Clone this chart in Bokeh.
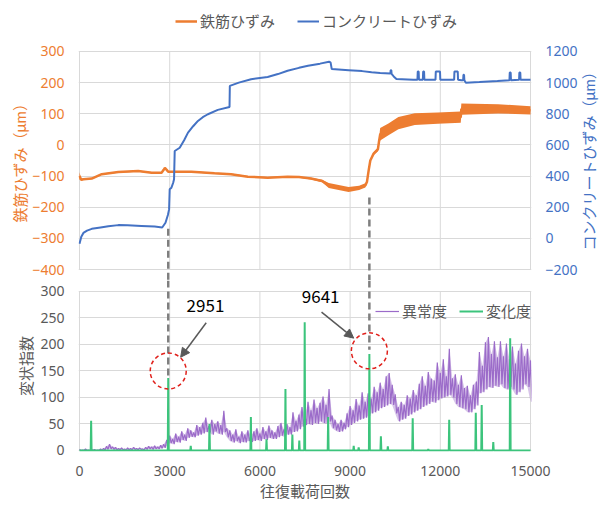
import math
from bokeh.plotting import figure
from bokeh.models import (Range1d, LinearAxis, FixedTicker, Legend, LegendItem,
                          Label, Arrow, NormalHead)
from bokeh.layouts import column, row
from bokeh.embed import file_html
from bokeh.resources import INLINE

# ---------------- data ----------------
X_TICKS = [0, 3000, 6000, 9000, 12000, 15000]
STEEL_TICKS = [-400, -300, -200, -100, 0, 100, 200, 300]
CONC_TICKS = [-200, 0, 200, 400, 600, 800, 1000, 1200]
INDEX_TICKS = [0, 50, 100, 150, 200, 250, 300]

# 鉄筋ひずみ (left axis): x, centre, half thickness of the oscillation band
steel_x = [0, 60, 132, 408, 740, 1290, 1950, 2400, 2730, 2800, 2840, 2900, 2950, 3720, 4490,
           5040, 5600, 6258, 6920, 7300, 7700, 8070, 8290, 8950, 9300, 9507, 9562, 9620, 9672,
           9782, 9925, 9960, 10000, 10275, 10606, 11150, 11920, 12680, 12700, 13920, 15000]
steel_mid = [-100, -112, -110, -108, -94, -87, -84, -89, -89, -80, -74, -80, -86, -86, -91,
             -94, -102, -105, -102, -103, -108, -116, -130, -143, -138, -130, -118, -80, -50,
             -28, -14, 10, 34, 50, 70, 83, 86, 89, 115, 116, 111]
steel_half = [12, 3, 2, 2, 2, 2, 2, 2, 2, 2, 2, 2, 2, 2, 2,
              2, 2, 2, 2, 2, 3, 4, 8, 8, 7, 7, 4, 4, 4,
              5, 6, 10, 20, 19, 20, 19, 18, 18, 18, 15, 13]

# コンクリートひずみ (right axis)
conc_x = [0, 60, 130, 250, 408, 700, 960, 1290, 1600, 2060,
          2500, 2750, 2860, 2940, 2980, 3000, 3057, 3120, 3145, 3167,
          3333, 3480, 3609, 3780, 3940, 4100, 4271, 4600, 4990, 5000,
          5300, 5706, 6258, 6600, 6920, 7300, 7600, 8000, 8300, 8350,
          8390, 8953, 9400, 9714, 10000, 10340, 10350, 10370, 10380, 10450,
          10540, 11100, 11240, 11250, 11280, 11290, 11420, 11430, 11460, 11470,
          11840, 11850, 11990, 12000, 12460, 12470, 12580, 12590, 12700, 12760,
          12770, 12790, 12800, 12850, 13300, 13900, 14300, 14310, 14340, 14350,
          14620, 14630, 14660, 14670, 15000]
conc_y = [-35, 10, 35, 50, 61, 70, 78, 85, 84, 80,
          76, 70, 100, 150, 186, 315, 325, 360, 379, 561,
          582, 630, 679, 720, 754, 778, 797, 825, 844, 979,
          1000, 1022, 1036, 1055, 1076, 1095, 1108, 1122, 1134, 1130,
          1087, 1080, 1074, 1066, 1062, 1058, 1080, 1080, 1056, 1040,
          1024, 1019, 1019, 1072, 1072, 1019, 1019, 1072, 1072, 1019,
          1019, 1072, 1072, 1019, 1019, 1072, 1072, 1019, 1016, 1016,
          1050, 1050, 1016, 1000, 1004, 1010, 1016, 1065, 1065, 1016,
          1018, 1065, 1065, 1018, 1019]

# 異常度: upper / lower swing read every 100 cycles
anom_x = list(range(0, 15001, 100))
anom_hi = [2, 1, 3, 1, 2, 2, 1, 3, 4, 8, 12, 7, 6, 4, 5, 3, 5, 4, 6, 4,
           5, 3, 6, 8, 7, 9, 7, 10, 12, 20, 28, 22, 32, 26, 36, 30, 42, 38, 34, 48,
           44, 52, 62, 46, 58, 50, 55, 48, 75, 42, 38, 30, 40, 26, 36, 30, 38, 28, 36, 42,
           32, 44, 36, 47, 38, 34, 46, 52, 40, 50, 44, 72, 56, 68, 82, 66, 92, 76, 96, 80,
           90, 102, 86, 116, 66, 58, 50, 58, 52, 70, 84, 76, 97, 85, 110, 92, 108, 98, 120, 110,
           128, 116, 140, 146, 124, 106, 82, 92, 86, 104, 98, 114, 104, 126, 140, 122, 148, 136, 132, 166,
           146, 172, 140, 192, 136, 144, 124, 142, 118, 122, 104, 124, 130, 186, 160, 204, 214, 182, 206, 176,
           206, 178, 202, 172, 196, 164, 188, 202, 178, 192, 170]
anom_lo = [0, 0, 0, 0, 0, 0, 0, 0, 1, 2, 3, 2, 1, 1, 1, 0, 1, 1, 2, 1,
           2, 1, 2, 3, 2, 3, 3, 4, 5, 8, 14, 12, 16, 15, 20, 18, 24, 26, 25, 28,
           30, 32, 35, 34, 30, 36, 32, 30, 35, 25, 18, 15, 18, 14, 16, 15, 18, 16, 18, 20,
           18, 22, 20, 24, 22, 22, 25, 28, 26, 30, 30, 35, 36, 40, 45, 48, 50, 48, 52, 50,
           55, 52, 50, 55, 42, 38, 35, 36, 40, 44, 48, 52, 55, 58, 60, 62, 65, 70, 72, 75,
           80, 82, 85, 88, 86, 70, 55, 58, 60, 65, 68, 72, 75, 78, 82, 85, 88, 92, 90, 95,
           98, 100, 102, 105, 100, 88, 82, 80, 78, 72, 72, 78, 85, 108, 110, 115, 120, 118, 122, 120,
           125, 118, 115, 120, 115, 105, 110, 115, 125, 120, 92]

# 変化度 spikes
chg_x = [387, 2951, 3700, 4323, 5700, 6220, 6850, 7080, 7310, 7490, 8270, 9120, 9285,
         9641, 10024, 10255, 11082, 11600, 12296, 13180, 13377, 13762, 14324]
chg_h = [56, 137, 9, 50, 63, 21, 116, 30, 19, 242, 63, 9, 6,
         182, 27, 8, 61, 3, 58, 71, 86, 16, 212]

# annotated events
event_x = [2951, 9641]
event_text = ["2951", "9641"]
conn_top_y = [-269, -169]     # start of dashed connector (left axis units)
conn_bot_y = [138, 190]       # end of dashed connector (index units)
circle_y = [150, 188]
label_x = [4190, 8020]
label_y = [274, 290]
arrow_from = [(4214, 241), (8051, 261)]
arrow_to = [(3364, 176), (9120, 212)]

# ---------------- style ----------------
ORANGE = "#ED7D31"
BLUE = "#4472C4"
PURPLE = "#9B6BC9"
GREEN = "#3CC47C"
GRID = "#D9D9D9"
GRAY = "#595959"
DASH = "#7F7F7F"
RED = "#E0201B"
CJK = "'Noto Sans CJK JP'"
TITLE_FONT = "Lato, 'Noto Sans CJK JP'"
NUM_FONT = "'Noto Sans'"
PAD_TAIL = "\u3000\u3000\u3000"     # keeps the rotated left title centred on the plot body
PAD_HEAD = "\u3000\u3000"           # lifts the right title off the frame bottom
RIGHT_TITLE = "コンクリートひずみ（μm）"

# pixel plan (canvas coordinates): the top frame also holds the legend strip above
X_PAD = 33.04
TOP_RANGE = (-435.32, 463.76)
RIGHT_RANGE = (2 * TOP_RANGE[0] + 600, 2 * TOP_RANGE[1] + 600)
BOT_RANGE = (-1.887, 320.75)


def style_axis(ax, color, label=None, label_standoff=3):
    ax.axis_line_color = None
    ax.major_tick_line_color = None
    ax.minor_tick_line_color = None
    ax.major_tick_out = 0
    ax.major_tick_in = 0
    ax.minor_tick_out = 0
    ax.minor_tick_in = 0
    ax.major_label_text_color = color
    ax.major_label_text_font = NUM_FONT
    ax.major_label_text_font_size = "14px"
    ax.major_label_standoff = 14
    if label:
        ax.axis_label = label
        ax.axis_label_text_color = color
        ax.axis_label_text_font = TITLE_FONT
        ax.axis_label_text_font_size = "15px"
        ax.axis_label_text_font_style = "normal"
        ax.axis_label_standoff = label_standoff


ax_r = LinearAxis(y_range_name="right", ticker=FixedTicker(ticks=CONC_TICKS))
axis_props = LinearAxis.properties()
right_on_axis = False
if "axis_label_orientation" in axis_props and "axis_label_align" in axis_props:
    try:
        ax_r.axis_label_orientation = math.pi / 2   # reads bottom-to-top
        ax_r.axis_label_align = "start"
        right_on_axis = True
    except Exception:
        right_on_axis = False

top_w = 609 if right_on_axis else 584

# ---------------- top chart ----------------
top = figure(width=top_w, height=280, min_border_left=78, min_border_right=top_w - 78 - 456,
             min_border_top=0, min_border_bottom=0,
             x_range=Range1d(-X_PAD, 15000 + X_PAD), y_range=Range1d(*TOP_RANGE),
             x_axis_location=None, output_backend="svg", toolbar_location=None,
             outline_line_color=None)
top.extra_y_ranges = {"right": Range1d(*RIGHT_RANGE)}
top.xgrid.visible = False
top.ygrid.ticker = FixedTicker(ticks=STEEL_TICKS)
top.ygrid.grid_line_color = GRID
top.segment(x0=X_TICKS, y0=[STEEL_TICKS[0]] * len(X_TICKS), x1=X_TICKS,
            y1=[STEEL_TICKS[-1]] * len(X_TICKS), line_color=GRID, line_width=1,
            level="underlay")

ax_l = top.yaxis[0]
ax_l.ticker = FixedTicker(ticks=STEEL_TICKS)
style_axis(ax_l, ORANGE, "鉄筋ひずみ（μm）" + PAD_TAIL, label_standoff=0)

if right_on_axis:
    style_axis(ax_r, BLUE, PAD_HEAD + RIGHT_TITLE, label_standoff=8)
else:
    style_axis(ax_r, BLUE)
top.add_layout(ax_r, "right")

lower = [m - h for m, h in zip(steel_mid, steel_half)]
upper = [m + h for m, h in zip(steel_mid, steel_half)]
top.varea(x=steel_x, y1=lower, y2=upper, fill_color=ORANGE)
r_steel = top.line(steel_x, steel_mid, line_color=ORANGE, line_width=2.5)
r_conc = top.line(conc_x, conc_y, y_range_name="right", line_color=BLUE, line_width=2)

top.segment(x0=event_x, y0=conn_top_y, x1=event_x, y1=[TOP_RANGE[0]] * len(event_x),
            line_color=DASH, line_width=2.5, line_dash="7 4")

leg_top = Legend(items=[LegendItem(label="鉄筋ひずみ", renderers=[r_steel]),
                        LegendItem(label="コンクリートひずみ", renderers=[r_conc])],
                 orientation="horizontal", location=(97, 249),
                 background_fill_alpha=0, border_line_color=None,
                 label_text_font=TITLE_FONT, label_text_font_size="15px",
                 label_text_color=GRAY, glyph_width=22, glyph_height=14,
                 label_height=16, label_standoff=3, spacing=22, padding=0, margin=0)
top.add_layout(leg_top)

if right_on_axis:
    top_row = top
else:
    ttl_fig = figure(width=609 - top_w, height=280, min_border=0, title=None,
                     x_range=Range1d(0, 1), y_range=Range1d(0, 1),
                     x_axis_location=None, y_axis_location=None,
                     output_backend="svg", toolbar_location=None,
                     outline_line_color=None)
    ttl_fig.xgrid.visible = False
    ttl_fig.ygrid.visible = False
    ttl_fig.add_layout(Label(x=0.08, y=0.464, text=RIGHT_TITLE, angle=90,
                             angle_units="deg", text_color=BLUE, text_font=TITLE_FONT,
                             text_font_size="15px", text_align="center",
                             text_baseline="middle"))
    top_row = row(top, ttl_fig)

# ---------------- bottom chart ----------------
bot = figure(width=609, height=228, min_border_left=78, min_border_right=75,
             min_border_top=0, min_border_bottom=57,
             x_range=Range1d(-X_PAD, 15000 + X_PAD), y_range=Range1d(*BOT_RANGE),
             output_backend="svg", toolbar_location=None, outline_line_color=None)
bot.xgrid.visible = False
bot.ygrid.ticker = FixedTicker(ticks=INDEX_TICKS)
bot.ygrid.grid_line_color = GRID
bot.segment(x0=X_TICKS, y0=[INDEX_TICKS[0]] * len(X_TICKS), x1=X_TICKS,
            y1=[INDEX_TICKS[-1]] * len(X_TICKS), line_color=GRID, line_width=1,
            level="underlay")

bx = bot.xaxis[0]
bx.ticker = FixedTicker(ticks=X_TICKS)
style_axis(bx, GRAY, "往復載荷回数", label_standoff=3)
bx.major_label_standoff = 14
by = bot.yaxis[0]
by.ticker = FixedTicker(ticks=INDEX_TICKS)
style_axis(by, GRAY, "変状指数", label_standoff=2)

bot.varea(x=anom_x, y1=anom_lo, y2=anom_hi, fill_color=PURPLE, fill_alpha=0.4)
ax_pts, ay_pts = [], []
for x, lo, hi in zip(anom_x, anom_lo, anom_hi):
    ax_pts += [x, x + 50]
    ay_pts += [hi, lo]
r_anom = bot.line(ax_pts, ay_pts, line_color=PURPLE, line_width=1.2)

gx, gy = [0], [0]
for x, h in zip(chg_x, chg_h):
    gx += [x - 15, x, x + 15]
    gy += [0, h, 0]
gx.append(15000)
gy.append(0)
r_chg = bot.line(gx, gy, line_color=GREEN, line_width=2)

bot.segment(x0=event_x, y0=[BOT_RANGE[1]] * len(event_x), x1=event_x, y1=conn_bot_y,
            line_color=DASH, line_width=2.5, line_dash="7 4")

bot.scatter(event_x, circle_y, marker="circle", size=36, fill_color=None,
            line_color=RED, line_dash="4 3", line_width=1.5)

for lx, ly, t in zip(label_x, label_y, event_text):
    bot.add_layout(Label(x=lx, y=ly, text=t, text_font=CJK, text_font_size="17px",
                         text_color="#000000", text_align="center",
                         text_baseline="middle"))

for (x0, y0), (x1, y1) in zip(arrow_from, arrow_to):
    bot.add_layout(Arrow(end=NormalHead(size=9, fill_color=GRAY, line_color=GRAY),
                         x_start=x0, y_start=y0, x_end=x1, y_end=y1,
                         line_color=GRAY, line_width=1.5))

leg_bot = Legend(items=[LegendItem(label="異常度", renderers=[r_anom]),
                        LegendItem(label="変化度", renderers=[r_chg])],
                 orientation="horizontal", location=(297, 130),
                 background_fill_alpha=0, border_line_color=None,
                 label_text_font=TITLE_FONT, label_text_font_size="15px",
                 label_text_color=GRAY, glyph_width=24, glyph_height=14,
                 label_height=16, label_standoff=3, spacing=12, padding=2, margin=0)
bot.add_layout(leg_bot)

layout = column(top_row, bot)
open("out.html", "w").write(file_html(layout, INLINE))
